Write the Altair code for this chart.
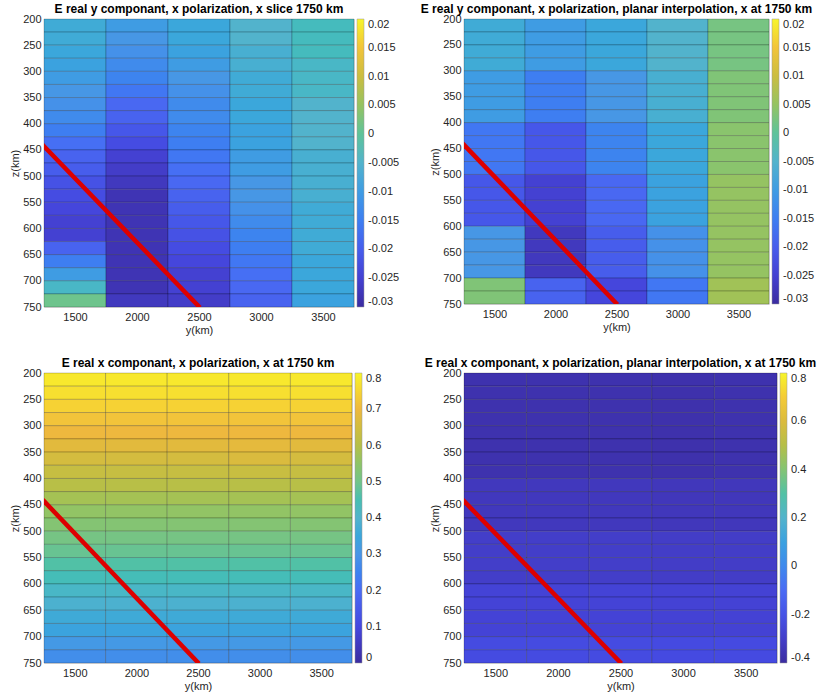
import altair as alt
import pandas as pd

# ---------------- data ----------------
y_centers = [1500, 2000, 2500, 3000, 3500]
cell_w = 500
z_tops = [200, 225, 250, 275, 300, 325, 350, 375, 400, 425, 450,
          475, 500, 525, 550, 575, 600, 625, 650, 675, 700, 725]
cell_h = 25

# Panel 1: E real y component, x slice (one list per y column, top to bottom)
p1_vals = [
    [-0.007, -0.007, -0.008, -0.009, -0.010, -0.011, -0.012, -0.013, -0.015, -0.017, -0.019,
     -0.020, -0.022, -0.023, -0.024, -0.025, -0.025, -0.019, -0.015, -0.010, -0.004, 0.001],
    [-0.010, -0.011, -0.012, -0.013, -0.014, -0.016, -0.018, -0.019, -0.021, -0.023, -0.025,
     -0.026, -0.027, -0.028, -0.028, -0.028, -0.028, -0.028, -0.028, -0.028, -0.028, -0.027],
    [-0.008, -0.008, -0.009, -0.010, -0.011, -0.012, -0.013, -0.013, -0.014, -0.015, -0.016,
     -0.017, -0.018, -0.019, -0.020, -0.021, -0.022, -0.023, -0.024, -0.025, -0.025, -0.026],
    [-0.005, -0.005, -0.006, -0.006, -0.007, -0.007, -0.008, -0.008, -0.009, -0.009, -0.010,
     -0.010, -0.011, -0.011, -0.012, -0.013, -0.014, -0.015, -0.016, -0.017, -0.018, -0.019],
    [-0.003, -0.003, -0.003, -0.004, -0.004, -0.004, -0.005, -0.005, -0.005, -0.005, -0.006,
     -0.006, -0.006, -0.006, -0.007, -0.007, -0.007, -0.007, -0.008, -0.008, -0.008, -0.009],
]

# Panel 2: E real y component, planar interpolation
p2_vals = [
    [-0.007, -0.007, -0.007, -0.007, -0.010, -0.010, -0.010, -0.010, -0.016, -0.016, -0.016,
     -0.016, -0.021, -0.021, -0.021, -0.021, -0.011, -0.011, -0.011, -0.011, 0.003, 0.003],
    [-0.010, -0.010, -0.010, -0.010, -0.015, -0.015, -0.015, -0.015, -0.021, -0.021, -0.021,
     -0.021, -0.025, -0.025, -0.025, -0.025, -0.027, -0.027, -0.027, -0.027, -0.019, -0.019],
    [-0.008, -0.008, -0.008, -0.008, -0.011, -0.011, -0.011, -0.011, -0.014, -0.014, -0.014,
     -0.014, -0.018, -0.018, -0.018, -0.018, -0.020, -0.020, -0.020, -0.020, -0.024, -0.024],
    [-0.005, -0.005, -0.005, -0.005, -0.006, -0.006, -0.006, -0.006, -0.008, -0.008, -0.008,
     -0.008, -0.009, -0.009, -0.009, -0.009, -0.012, -0.012, -0.012, -0.012, -0.016, -0.016],
    [0.002, 0.002, 0.002, 0.002, 0.003, 0.003, 0.003, 0.003, 0.004, 0.004, 0.004,
     0.004, 0.005, 0.005, 0.005, 0.005, 0.005, 0.005, 0.005, 0.005, 0.006, 0.006],
]

# Panel 3: E real x component, x slice
p3_vals = [
    [0.780, 0.765, 0.745, 0.720, 0.700, 0.680, 0.655, 0.630, 0.605, 0.580, 0.555,
     0.535, 0.510, 0.490, 0.465, 0.440, 0.415, 0.390, 0.365, 0.340, 0.310, 0.280],
    [0.780, 0.765, 0.745, 0.720, 0.700, 0.680, 0.655, 0.630, 0.605, 0.580, 0.555,
     0.535, 0.510, 0.490, 0.465, 0.440, 0.415, 0.390, 0.365, 0.340, 0.310, 0.280],
    [0.780, 0.765, 0.745, 0.720, 0.700, 0.680, 0.655, 0.630, 0.605, 0.580, 0.555,
     0.535, 0.510, 0.490, 0.465, 0.440, 0.415, 0.390, 0.365, 0.340, 0.310, 0.280],
    [0.780, 0.765, 0.745, 0.720, 0.700, 0.685, 0.665, 0.635, 0.605, 0.580, 0.555,
     0.535, 0.510, 0.490, 0.465, 0.440, 0.415, 0.390, 0.365, 0.340, 0.310, 0.280],
    [0.780, 0.765, 0.745, 0.720, 0.700, 0.680, 0.655, 0.630, 0.605, 0.580, 0.555,
     0.535, 0.510, 0.490, 0.465, 0.440, 0.415, 0.390, 0.365, 0.340, 0.310, 0.280],
]

# Panel 4: E real x component, planar interpolation
p4_vals = [
    [-0.365, -0.365, -0.365, -0.365, -0.365, -0.365, -0.365, -0.365, -0.330, -0.330, -0.330,
     -0.330, -0.300, -0.300, -0.300, -0.300, -0.270, -0.270, -0.270, -0.270, -0.235, -0.235],
    [-0.365, -0.365, -0.365, -0.365, -0.365, -0.365, -0.365, -0.365, -0.330, -0.330, -0.330,
     -0.330, -0.300, -0.300, -0.300, -0.300, -0.270, -0.270, -0.270, -0.270, -0.235, -0.235],
    [-0.365, -0.365, -0.365, -0.365, -0.365, -0.365, -0.365, -0.365, -0.330, -0.330, -0.330,
     -0.330, -0.300, -0.300, -0.300, -0.300, -0.270, -0.270, -0.270, -0.270, -0.235, -0.235],
    [-0.370, -0.370, -0.370, -0.370, -0.370, -0.370, -0.370, -0.370, -0.335, -0.335, -0.335,
     -0.335, -0.305, -0.305, -0.305, -0.305, -0.275, -0.275, -0.275, -0.275, -0.240, -0.240],
    [-0.365, -0.365, -0.365, -0.365, -0.365, -0.365, -0.365, -0.365, -0.335, -0.335, -0.335,
     -0.335, -0.305, -0.305, -0.305, -0.305, -0.275, -0.275, -0.275, -0.275, -0.240, -0.240],
]

# red slab line (y, z)
line_y = [1250, 2495]
line_z = [443, 748]

titles = [
    "E real y componant, x polarization, x slice 1750 km",
    "E real y componant, x polarization, planar interpolation, x at  1750 km",
    "E real x componant, x polarization, x at 1750 km",
    "E real x componant, x polarization, planar interpolation, x at 1750 km",
]
cbar_ranges = [(-0.03, 0.02), (-0.03, 0.02), (0.0, 0.8), (-0.4, 0.8)]
cbar_ticks = [
    [-0.03, -0.025, -0.02, -0.015, -0.01, -0.005, 0, 0.005, 0.01, 0.015, 0.02],
    [-0.03, -0.025, -0.02, -0.015, -0.01, -0.005, 0, 0.005, 0.01, 0.015, 0.02],
    [0, 0.1, 0.2, 0.3, 0.4, 0.5, 0.6, 0.7, 0.8],
    [-0.4, -0.2, 0, 0.2, 0.4, 0.6, 0.8],
]
x_ticks = [1500, 2000, 2500, 3000, 3500]
z_ticks = [200, 250, 300, 350, 400, 450, 500, 550, 600, 650, 700, 750]

parula = ["#3b2ca0", "#4547df", "#4a6bf4", "#4a95e6", "#52b3cc",
          "#72c48a", "#b5bf48", "#eeb83e", "#f7f52a"]

FONT = "Liberation Sans"
TXT = "#262626"


def make_df(vals):
    rows = []
    for ci, yc in enumerate(y_centers):
        for ri, zt in enumerate(z_tops):
            rows.append({"y0": yc - cell_w / 2, "y1": yc + cell_w / 2,
                         "z0": zt, "z1": zt + cell_h, "v": vals[ci][ri]})
    return pd.DataFrame(rows)


line_df = pd.DataFrame({"y": line_y, "z": line_z})

x_axis = alt.Axis(values=x_ticks, format="d", grid=False, ticks=False,
                  labelPadding=4, labelOverlap=False,
                  labelFontSize=11, labelColor=TXT, titleFontSize=11,
                  titleColor=TXT, titleFontWeight="normal", titlePadding=2,
                  domain=False, labelFont=FONT, titleFont=FONT)
y_axis = alt.Axis(values=z_ticks, format="d", grid=False, ticks=False,
                  labelPadding=3, labelOverlap=False,
                  labelFontSize=11, labelColor=TXT, titleFontSize=11,
                  titleColor=TXT, titleFontWeight="normal", titlePadding=2,
                  domain=False, labelFont=FONT, titleFont=FONT,
                  labelBaseline="middle", labelFlush=False)


def panel(vals, title, crange, cticks, w, h):
    xs = alt.Scale(domain=[1250, 3750], nice=False, zero=False)
    zs = alt.Scale(domain=[200, 750], reverse=True, nice=False, zero=False)
    heat = alt.Chart(make_df(vals)).mark_rect(
        stroke="#000000", strokeWidth=0.6, strokeOpacity=0.35
    ).encode(
        x=alt.X("y0:Q", scale=xs, title="y(km)", axis=x_axis),
        x2="y1:Q",
        y=alt.Y("z0:Q", scale=zs, title="z(km)", axis=y_axis),
        y2="z1:Q",
        color=alt.Color("v:Q",
                        scale=alt.Scale(domain=list(crange), range=parula, nice=False,
                                        zero=False, clamp=True),
                        legend=alt.Legend(title=None, orient="right", offset=3,
                                          gradientLength=h, gradientThickness=7,
                                          values=cticks,
                                          labelExpr="replace(format(datum.value, '.3~g'), '\u2212', '-')",
                                          labelFontSize=11,
                                          labelColor=TXT, labelFont=FONT,
                                          gradientStrokeColor="#999999",
                                          gradientStrokeWidth=0.5,
                                          labelOffset=4, labelOverlap=False,
                                          labelBaseline="middle")),
    )
    line = alt.Chart(line_df).mark_line(color="#dd0000", strokeWidth=4.5, clip=True,
                                        strokeCap="square").encode(
        x=alt.X("y:Q", scale=xs, title="y(km)", axis=x_axis),
        y=alt.Y("z:Q", scale=zs, title="z(km)", axis=y_axis),
    )
    return alt.layer(heat, line).properties(
        width=w, height=h,
        title=alt.TitleParams(title, fontSize=12, fontWeight="bold", font=FONT,
                              color="#000000", anchor="middle", offset=-3),
    ).resolve_scale(color="independent")


c1 = panel(p1_vals, titles[0], cbar_ranges[0], cbar_ticks[0], 310, 288)
c2 = panel(p2_vals, titles[1], cbar_ranges[1], cbar_ticks[1], 305, 285)
c3 = panel(p3_vals, titles[2], cbar_ranges[2], cbar_ticks[2], 308, 290)
c4 = panel(p4_vals, titles[3], cbar_ranges[3], cbar_ticks[3], 313, 290)

top = alt.hconcat(c1, c2, spacing=17).resolve_scale(color="independent")
bot = alt.hconcat(c3, c4, spacing=41).resolve_scale(color="independent")
chart = alt.vconcat(top, bot, spacing=20).resolve_scale(color="independent").properties(
    padding={"left": 9, "top": 2, "right": 0, "bottom": 0}
).configure_view(stroke=None).configure(background="white")

chart.save("out.html", embed_options={"renderer": "svg", "actions": False})
